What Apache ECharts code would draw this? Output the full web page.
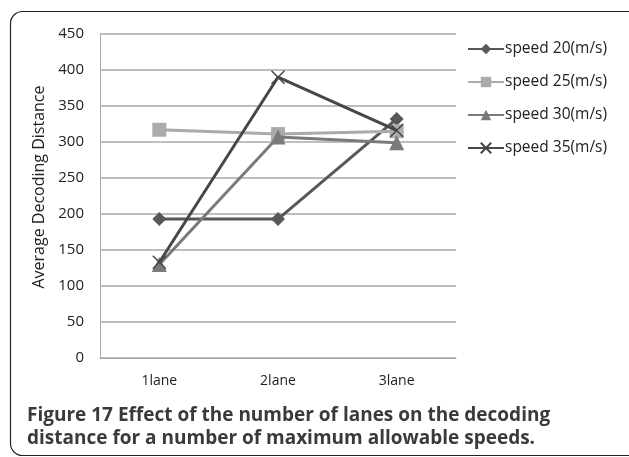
<!DOCTYPE html>
<html><head><meta charset="utf-8">
<script src="https://cdn.jsdelivr.net/npm/echarts@6/dist/echarts.min.js"></script>
<style>html,body{margin:0;padding:0;background:#fff}#c{width:629px;height:457px}</style>
</head><body><div id="c"></div>
<script>
const categories = ['1lane', '2lane', '3lane'];
const seriesNames = ['speed 20(m/s)', 'speed 25(m/s)', 'speed 30(m/s)', 'speed 35(m/s)'];
const speed20 = [193, 193, 332];
const speed25 = [317, 311, 315];
const speed30 = [130, 307, 299];
const speed35 = [133, 390, 316];
const yTicks = [0, 450, 50];
const captionLines = ['Figure 17 Effect of the number of lanes on the decoding', 'distance for a number of maximum allowable speeds.'];

const chart = echarts.init(document.getElementById('c'), null, {renderer: 'canvas'});
const F = '"Open Sans", "Noto Sans", sans-serif';
const colors = ['#575757', '#ababab', '#7a7a7a', '#474747'];
const symbols = ['diamond', 'rect', 'triangle', 'path://M0,0L10,10M10,0L0,10'];
const sizes = [14, 14, 15, 13];
const datas = [speed20, speed25, speed30, speed35];
const series = seriesNames.map((n, i) => ({
  name: n, type: 'line', data: datas[i],
  symbol: symbols[i], symbolSize: sizes[i], showAllSymbol: true,
  lineStyle: {color: colors[i], width: 3},
  itemStyle: i === 3 ? {color: 'none', borderColor: colors[i], borderWidth: 1.5} : {color: colors[i]},
  emphasis: {disabled: true}, animation: false, z: 2 + i
}));
const capText = (t, top) => ({type: 'text', left: 27, top: top, style: {text: t, font: 'bold 19px ' + F, fill: '#3a3a3a'}});
chart.setOption({
  animation: false,
  grid: {left: 100, right: 173, top: 34, bottom: 99},
  xAxis: {type: 'category', data: categories, boundaryGap: true,
    axisLine: {show: true, lineStyle: {color: '#a8a8a8', width: 1}}, axisTick: {show: false},
    axisLabel: {color: '#222', fontSize: 14, fontFamily: F, margin: 16}},
  yAxis: {type: 'value', min: yTicks[0], max: yTicks[1], interval: yTicks[2],
    name: 'Average Decoding Distance', nameLocation: 'middle', nameGap: 46,
    nameTextStyle: {color: '#222', fontSize: 16, fontFamily: F, padding: [0, 0, 0, 18]},
    axisLine: {show: true, lineStyle: {color: '#a8a8a8', width: 1}}, axisTick: {show: false},
    axisLabel: {color: '#222', fontSize: 15, fontFamily: F, margin: 16},
    splitLine: {lineStyle: {color: '#a8a8a8', width: 1.5}}},
  legend: {orient: 'vertical', left: 462, top: 36, itemWidth: 36, itemHeight: 13, itemGap: 17,
    textStyle: {color: '#222', fontSize: 15.5, fontFamily: F, padding: [0, 0, 0, -4]}, data: seriesNames},
  series: series,
  graphic: [
    {type: 'rect', shape: {x: 10.5, y: 11.5, width: 630, height: 444, r: 12}, style: {fill: 'none', stroke: '#222', lineWidth: 1.2}},
    capText(captionLines[0], 406), capText(captionLines[1], 429)
  ]
});
</script></body></html>
